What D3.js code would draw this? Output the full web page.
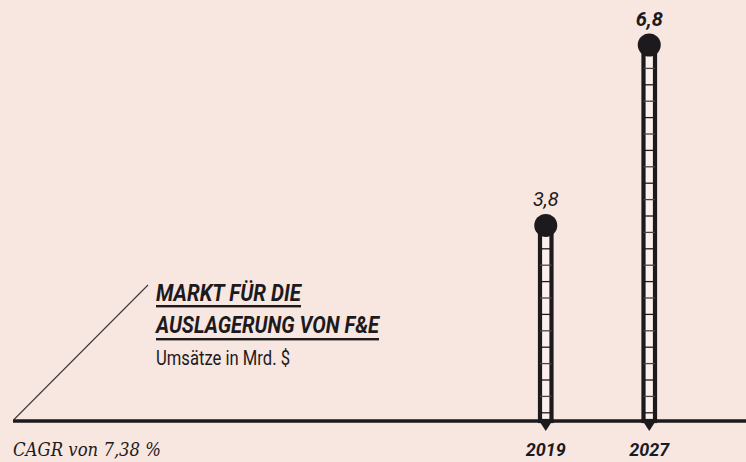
<!DOCTYPE html>
<html>
<head>
<meta charset="utf-8">
<script src="https://cdn.jsdelivr.net/npm/d3@7"></script>
<style>
  html, body { margin: 0; padding: 0; background: #f8e6e0; }
  svg { display: block; }
</style>
</head>
<body>
<div id="chart"></div>
<script>
// data
const years = ["2019", "2027"];
const values = [3.8, 6.8];
const valueLabels = ["3,8", "6,8"];
const titleLines = ["MARKT FÜR DIE", "AUSLAGERUNG VON F&E"];
const subtitle = "Umsätze in Mrd. $";
const note = "CAGR von 7,38 %";

const width = 746;
const height = 462;
const ink = "#1d1a1d";
const bg = "#f8e6e0";

const svg = d3.select("#chart")
  .append("svg")
  .attr("width", width)
  .attr("height", height)
  .style("background", bg);

const baseY = 421;

// scales
const x = d3.scaleBand()
  .domain(years)
  .range([494, 701]);

const y = d3.scaleLinear()
  .domain([0.55, 6.8])
  .range([baseY, 45]);

const cx = d => x(d) + x.bandwidth() / 2;

// diagonal pointer line
svg.append("line")
  .attr("x1", 14).attr("y1", baseY - 1.5)
  .attr("x2", 148).attr("y2", 285)
  .attr("stroke", "#3c383b")
  .attr("stroke-width", 1.1);

// title block
const title = svg.append("g").attr("transform", "translate(156,0)");
const titleW = [145, 223];
const titleBase = [301, 333];
titleLines.forEach((t, i) => {
  title.append("text")
    .attr("x", 0)
    .attr("y", titleBase[i])
    .attr("font-family", "Roboto, sans-serif")
    .attr("font-weight", 700)
    .attr("font-style", "italic")
    .attr("font-size", 23)
    .attr("fill", ink)
    .attr("textLength", titleW[i])
    .attr("lengthAdjust", "spacingAndGlyphs")
    .text(t);
  title.append("rect")
    .attr("x", 0)
    .attr("y", titleBase[i] + (i === 0 ? 4 : 5))
    .attr("width", titleW[i])
    .attr("height", 2.4)
    .attr("fill", ink);
});

title.append("text")
  .attr("x", 0)
  .attr("y", 365)
  .attr("font-family", "Roboto, sans-serif")
  .attr("font-size", 21)
  .attr("fill", ink)
  .attr("textLength", 134)
  .attr("lengthAdjust", "spacingAndGlyphs")
  .text(subtitle);

// baseline
svg.append("line")
  .attr("x1", 13).attr("x2", width)
  .attr("y1", baseY).attr("y2", baseY)
  .attr("stroke", ink)
  .attr("stroke-width", 3.5);

// thermometer bars
const barW = 11.5;
const r = 11.5;
const rungStep = 16.4;

const bars = svg.append("g")
  .selectAll("g")
  .data(years.map((yr, i) => ({ year: yr, value: values[i], label: valueLabels[i], i })))
  .join("g");

bars.append("rect")
  .attr("x", d => cx(d.year) - barW / 2)
  .attr("y", d => y(d.value))
  .attr("width", barW)
  .attr("height", d => baseY - y(d.value))
  .attr("fill", "#fcf0ec")
  .attr("stroke", ink)
  .attr("stroke-width", 4.2);

bars.each(function(d) {
  const g = d3.select(this);
  const top = y(d.value) + r;
  const rungs = [];
  for (let ry = baseY - rungStep / 2; ry > top; ry -= rungStep) rungs.push(ry);
  g.selectAll("line.rung")
    .data(rungs)
    .join("line")
    .attr("class", "rung")
    .attr("x1", cx(d.year) - barW / 2)
    .attr("x2", cx(d.year) + barW / 2)
    .attr("y1", v => v)
    .attr("y2", v => v)
    .attr("stroke", (v, k) => k % 2 ? "#4a4448" : "#1d1a1d")
    .attr("stroke-width", 1.3);
});

// arrow tips under the baseline
bars.append("path")
  .attr("d", d => {
    const c = cx(d.year);
    return `M${c - 7.8},${baseY - 2} L${c + 7.8},${baseY - 2} L${c},${baseY + 10} Z`;
  })
  .attr("fill", ink);

// bulbs
bars.append("circle")
  .attr("cx", d => cx(d.year))
  .attr("cy", d => y(d.value))
  .attr("r", r)
  .attr("fill", ink);

// value labels
bars.append("text")
  .attr("x", d => cx(d.year))
  .attr("y", d => y(d.value) - 19)
  .attr("text-anchor", "middle")
  .attr("font-family", "Roboto, sans-serif")
  .attr("font-style", "italic")
  .attr("font-weight", d => d.i === 1 ? 700 : 400)
  .attr("font-size", 20)
  .attr("fill", ink)
  .text(d => d.label);

// year labels
bars.append("text")
  .attr("x", d => cx(d.year))
  .attr("y", 456)
  .attr("text-anchor", "middle")
  .attr("font-family", "Roboto, sans-serif")
  .attr("font-style", "italic")
  .attr("font-weight", 700)
  .attr("font-size", 18)
  .attr("fill", ink)
  .text(d => d.year);

// footnote
svg.append("text")
  .attr("x", 13)
  .attr("y", 456)
  .attr("font-family", "'DejaVu Serif', serif")
  .attr("font-style", "italic")
  .attr("font-size", 19)
  .attr("fill", ink)
  .attr("textLength", 148)
  .attr("lengthAdjust", "spacingAndGlyphs")
  .text(note);
</script>
</body>
</html>
